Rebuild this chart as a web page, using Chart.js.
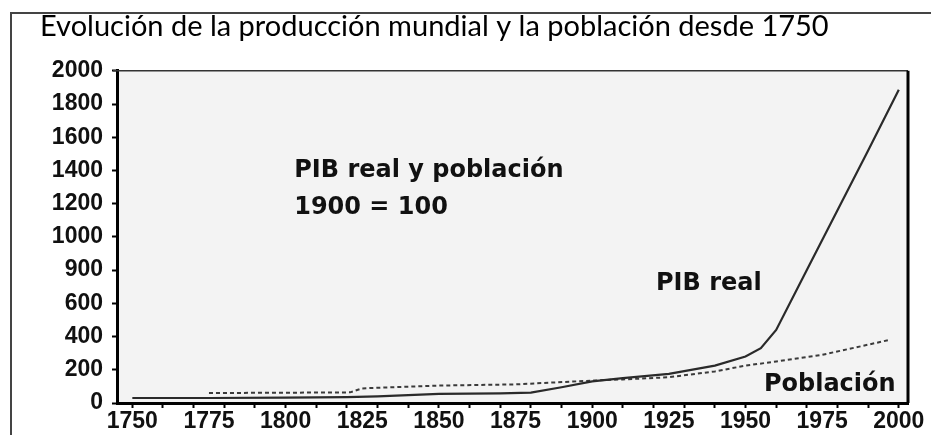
<!DOCTYPE html>
<html>
<head>
<meta charset="utf-8">
<script src="https://cdn.jsdelivr.net/npm/chart.js@4.4.0/dist/chart.umd.min.js"></script>
<style>
  html, body { margin: 0; padding: 0; background: #fff; overflow: hidden; }
  #frame { position: absolute; left: 10px; top: 12px; width: 960px; height: 460px;
           border-left: 2px solid #444; border-top: 2px solid #444; }
  #wrap { position: absolute; left: 0; top: 0; width: 931px; height: 435px; }
</style>
</head>
<body>
<div id="frame"></div>
<div id="wrap"><canvas id="chart" width="931" height="435"></canvas></div>
<script>
// Chart data (index, 1900 = 100)
const TITLE = 'Evolución de la producción mundial y la población desde 1750';

const pibYears  = [1750, 1775, 1800, 1820, 1830, 1850, 1870, 1880, 1890, 1900, 1910, 1925, 1940, 1950, 1955, 1960, 1970, 1980, 1990, 2000];
const pibValues = [30, 30, 32, 35, 40, 55, 58, 62, 95, 130, 150, 175, 225, 280, 330, 440, 800, 1160, 1520, 1886];

const popYears  = [1775, 1800, 1821, 1825, 1850, 1875, 1900, 1910, 1925, 1940, 1950, 1960, 1975, 1988, 1997];
const popValues = [60, 62, 64, 88, 105, 112, 135, 142, 155, 190, 225, 250, 290, 343, 380];

// y tick labels as printed on the original (note the "900")
const yTickLabels = ['0', '200', '400', '600', '900', '1000', '1200', '1400', '1600', '1800', '2000'];

const INK = '#111';
const TICK_FONT = { family: 'Liberation Sans', size: 23, weight: 'bold' };
const NOTE_FONT = 'bold 24px "DejaVu Sans"';

function toPoints(xs, ys) {
    return xs.map((x, i) => ({ x: x, y: ys[i] }));
}

// Plot background and the frame around the plot area
const plotFrame = {
    id: 'plotFrame',
    beforeDraw(chart) {
        const a = chart.chartArea;
        const ctx = chart.ctx;
        ctx.save();
        ctx.fillStyle = '#f3f3f3';
        ctx.fillRect(a.left, a.top, a.right - a.left, a.bottom - a.top);
        ctx.restore();
    },
    afterDraw(chart) {
        const a = chart.chartArea;
        const ctx = chart.ctx;
        ctx.save();
        ctx.strokeStyle = '#333';
        ctx.lineWidth = 1.5;
        ctx.beginPath();
        ctx.moveTo(a.left - 4, a.top);
        ctx.lineTo(a.right, a.top);
        ctx.stroke();
        ctx.strokeStyle = '#000';
        ctx.lineWidth = 3;
        ctx.beginPath();
        ctx.moveTo(a.right, a.top);
        ctx.lineTo(a.right, a.bottom);
        ctx.stroke();
        ctx.restore();
    }
};

// Text notes inside the plot, placed in data coordinates
const notes = [
    { text: 'PIB real y población', x: 1802.8, y: 1400 },
    { text: '1900 = 100', x: 1802.8, y: 1175 },
    { text: 'PIB real', x: 1920.8, y: 720 },
    { text: 'Población', x: 1956, y: 112 }
];

const notesPlugin = {
    id: 'notes',
    afterDatasetsDraw(chart) {
        const ctx = chart.ctx;
        const xs = chart.scales.x;
        const ys = chart.scales.y;
        ctx.save();
        ctx.font = NOTE_FONT;
        ctx.fillStyle = INK;
        ctx.textBaseline = 'middle';
        ctx.textAlign = 'left';
        notes.forEach(n => {
            ctx.fillText(n.text, xs.getPixelForValue(n.x), ys.getPixelForValue(n.y));
        });
        ctx.restore();
    }
};

const ctx = document.getElementById('chart').getContext('2d');
new Chart(ctx, {
    type: 'line',
    data: {
        datasets: [{
            label: 'PIB real',
            data: toPoints(pibYears, pibValues),
            borderColor: '#2a2a2a',
            borderWidth: 2.2,
            pointRadius: 0,
            tension: 0
        }, {
            label: 'Población',
            data: toPoints(popYears, popValues),
            borderColor: '#3a3a3a',
            borderWidth: 2,
            borderDash: [4, 3],
            pointRadius: 0,
            tension: 0
        }]
    },
    options: {
        responsive: false,
        animation: false,
        layout: { padding: { left: 40, right: 23, top: 0, bottom: 0 } },
        plugins: {
            legend: { display: false },
            tooltip: { enabled: false },
            title: {
                display: true,
                text: TITLE,
                align: 'start',
                color: '#000',
                font: { family: 'Lato', size: 29, weight: 'normal' },
                padding: { top: 9, bottom: 27 }
            }
        },
        scales: {
            x: {
                type: 'linear',
                min: 1745,
                max: 2003,
                afterFit(scale) { scale.height = 32; },
                border: { display: true, color: '#000', width: 3 },
                grid: {
                    drawOnChartArea: false,
                    tickLength: 5,
                    tickWidth: 2,
                    tickColor: c => (c.tick && c.tick.value % 10 === 0) ? '#000' : 'rgba(0,0,0,0)'
                },
                ticks: {
                    stepSize: 5,
                    includeBounds: false,
                    autoSkip: false,
                    maxRotation: 0,
                    padding: 0,
                    color: INK,
                    font: TICK_FONT,
                    callback: v => (v % 25 === 0) ? String(v) : ''
                }
            },
            y: {
                min: 0,
                max: 2000,
                afterFit(scale) { scale.width = 77; },
                border: { display: true, color: '#000', width: 3 },
                grid: {
                    drawOnChartArea: false,
                    tickLength: 5,
                    tickWidth: 2,
                    tickColor: '#000'
                },
                ticks: {
                    stepSize: 200,
                    padding: 9,
                    color: INK,
                    font: TICK_FONT,
                    callback: (v, i) => yTickLabels[i]
                }
            }
        }
    },
    plugins: [plotFrame, notesPlugin]
});
</script>
</body>
</html>
